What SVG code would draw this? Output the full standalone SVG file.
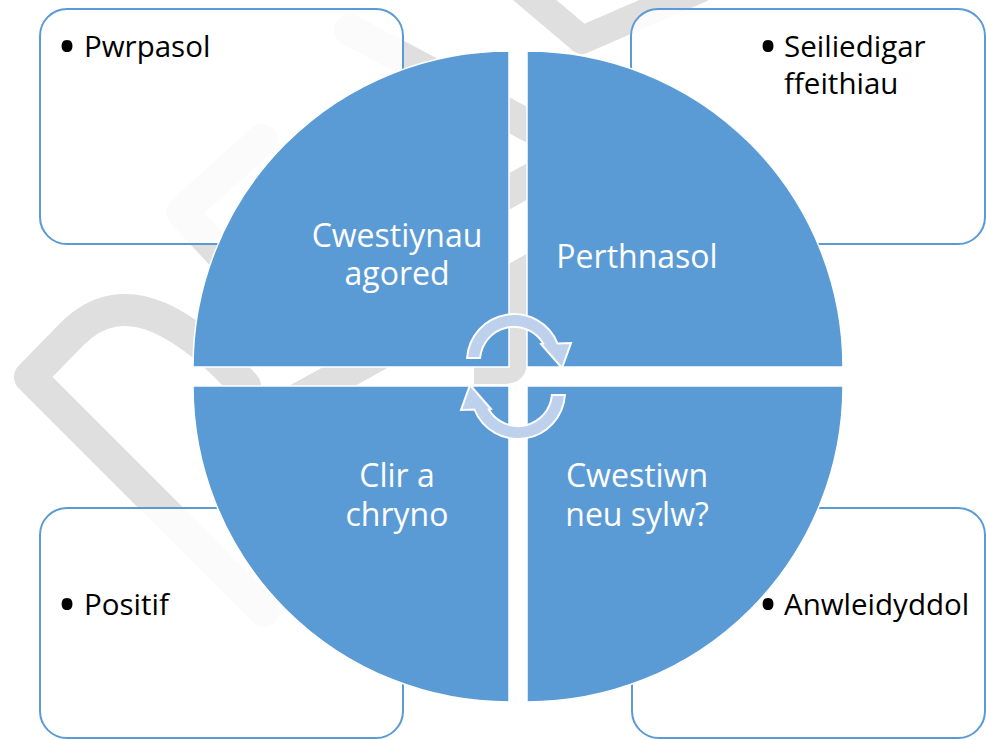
<svg xmlns="http://www.w3.org/2000/svg" width="986" height="740" viewBox="0 0 986 740">
<defs>
<style>
.wm{fill:none;stroke:#DFDFDF;stroke-width:32;stroke-linecap:round;stroke-linejoin:round}
.box{fill:#FFFFFF;fill-opacity:0.88;stroke:#5B9BD5;stroke-width:2}
.q{fill:#5B9BD5;stroke:#FFFFFF;stroke-width:1.5}
.arr{fill:#BDD0EC;stroke:#FFFFFF;stroke-width:2;stroke-linejoin:miter}
.t{font-family:"Open Sans","Noto Sans","Liberation Sans",sans-serif;font-size:29.5px;fill:#000000}
.bul{font-family:"Open Sans","Noto Sans","Liberation Sans",sans-serif;font-size:52px;fill:#000000;text-anchor:middle}
.ql{font-family:"Open Sans","Noto Sans","Liberation Sans",sans-serif;font-size:32px;fill:#FFFFFF;text-anchor:middle}
</style>
</defs>
<rect width="986" height="740" fill="#FFFFFF"/>
<g id="watermark">
<path class="wm" d="M 264,611 L 30,377 L 72,334 Q 110,296 160,318 Q 200,336 245,386"/>
<path class="wm" d="M 350,30 L 518,120 L 580,153"/>
<path class="wm" d="M 262,140 L 182,212 L 250,285"/>
<path class="wm" d="M 300,398 L 340,376 L 518,277 L 600,231"/>
<path class="wm" d="M 470,213 L 600,141"/>
<path class="wm" style="stroke-width:28" d="M 511,-20 L 582,40 L 700,-11"/>
<path class="wm" style="stroke-width:18;stroke-linecap:butt" d="M 518,280 L 518,362 Q 518,375 505,375 L 474,375"/>
</g>
<g id="box-tl"><rect class="box" x="40" y="9" width="363" height="235" rx="27"/>
<text class="bul" x="67" y="64.5">•</text><text class="t" x="84" y="57">Pwrpasol</text></g>
<g id="box-tr"><rect class="box" x="631" y="9" width="354" height="235" rx="27"/>
<text class="bul" x="768" y="64.5">•</text><text class="t" x="784" y="57">Seiliedigar</text><text class="t" x="784" y="94">ffeithiau</text></g>
<g id="box-bl"><rect class="box" x="40" y="508" width="363" height="230" rx="27"/>
<text class="bul" x="67" y="622.5">•</text><text class="t" x="84" y="615">Positif</text></g>
<g id="box-br"><rect class="box" x="632" y="508" width="353" height="230" rx="27"/>
<text class="bul" x="768" y="622.5">•</text><text class="t" x="784" y="615">Anwleidyddol</text></g>
<g id="q-tl"><path class="q" d="M 509,367 L 193,367 A 316 316 0 0 1 509,51 Z"/>
<text class="ql" x="397" y="247">Cwestiynau</text><text class="ql" x="397" y="285">agored</text></g>
<g id="q-tr"><path class="q" d="M 527,367 L 527,51 A 316 316 0 0 1 843,367 Z"/>
<text class="ql" x="637" y="268">Perthnasol</text></g>
<g id="q-br"><path class="q" d="M 527,386 L 843,386 A 316 316 0 0 1 527,702 Z"/>
<text class="ql" x="637" y="487">Cwestiwn</text><text class="ql" x="637" y="526">neu sylw?</text></g>
<g id="q-bl"><path class="q" d="M 509,386 L 509,702 A 316 316 0 0 1 193,386 Z"/>
<text class="ql" x="397" y="487">Clir a</text><text class="ql" x="397" y="526">chryno</text></g>
<g id="connectors">
<path id="arrow-top" class="arr" d="M 467.1,358 A 47 47 0 0 1 557.6,343.5 L 571,343 L 562,368 L 541,344 L 543.2,343.5 A 34 34 0 0 0 480.1,358 Z"/>
<path id="arrow-bottom" class="arr" transform="rotate(180 516 376.5)" d="M 467.1,358 A 47 47 0 0 1 557.6,343.5 L 571,343 L 562,368 L 541,344 L 543.2,343.5 A 34 34 0 0 0 480.1,358 Z"/>
</g>
</svg>
